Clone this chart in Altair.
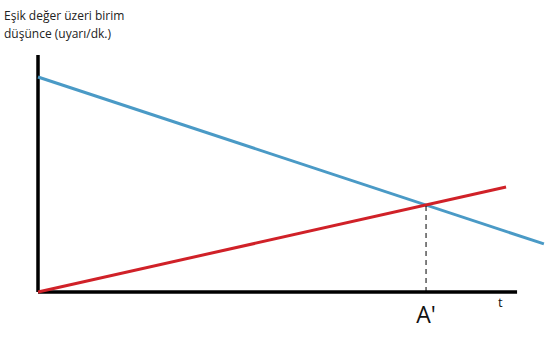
import altair as alt
import pandas as pd

# Conceptual data units (t on x, rate on y)
axis_x = [0.0, 10.0]          # x-axis extent
axis_y = [0.0, 10.0]          # y-axis extent
blue_t = [0.0, 10.56]
blue_v = [9.07, 2.03]
red_t = [0.0, 9.77]
red_v = [0.0, 4.43]
a_prime_t = 8.1
a_prime_v = 3.67
title_lines = ["Eşik değer üzeri birim", "düşünce (uyarı/dk.)"]
x_label = "t"
a_label = "A'"

xs = alt.Scale(domain=[0, 10.75], nice=False, zero=False)
ys = alt.Scale(domain=[0, 12.32], nice=False, zero=False)

blue_df = pd.DataFrame({"t": blue_t, "v": blue_v})
red_df = pd.DataFrame({"t": red_t, "v": red_v})
xaxis_df = pd.DataFrame({"t": [axis_x[0]], "t2": [axis_x[1]], "v": [0.0]})
yaxis_df = pd.DataFrame({"t": [0.0], "v": [axis_y[0]], "v2": [axis_y[1]]})
dash_df = pd.DataFrame({"t": [a_prime_t], "v": [0.0], "v2": [a_prime_v]})
alab_df = pd.DataFrame({"t": [a_prime_t], "v": [0.0], "label": [a_label]})
tlab_df = pd.DataFrame({"t": [9.65], "v": [0.0], "label": [x_label]})
title_df = pd.DataFrame({"label": ["\n".join(title_lines)]})

X = lambda f="t": alt.X(f"{f}:Q", scale=xs, axis=None)
Y = lambda f="v": alt.Y(f"{f}:Q", scale=ys, axis=None)

blue = alt.Chart(blue_df).mark_line(color="#4a9ac6", strokeWidth=3).encode(x=X(), y=Y())
red = alt.Chart(red_df).mark_line(color="#d02128", strokeWidth=3).encode(x=X(), y=Y())
xaxis = alt.Chart(xaxis_df).mark_rule(color="black", strokeWidth=3.5).encode(
    x=X(), x2="t2:Q", y=Y())
yaxis = alt.Chart(yaxis_df).mark_rule(color="black", strokeWidth=3.5).encode(
    x=X(), y=Y(), y2="v2:Q")
dash = alt.Chart(dash_df).mark_rule(color="black", strokeWidth=1, strokeDash=[5, 4]).encode(
    x=X(), y=Y(), y2="v2:Q")
alab = alt.Chart(alab_df).mark_text(font="Open Sans", fontSize=23, dy=31,
                                    baseline="alphabetic", align="center", color="#111").encode(
    x=X(), y=Y(), text="label:N")
tlab = alt.Chart(tlab_df).mark_text(font="Open Sans", fontSize=13, dy=15,
                                    baseline="alphabetic", align="center", color="#111").encode(
    x=X(), y=Y(), text="label:N")
title = alt.Chart(title_df).mark_text(font="Open Sans", fontSize=12, lineBreak="\n",
                                      lineHeight=17.5, baseline="alphabetic", align="left",
                                      color="#222").encode(
    x=alt.value(-34), y=alt.value(20), text="label:N")

chart = alt.layer(yaxis, xaxis, blue, red, dash, alab, tlab, title).properties(
    width=515, height=292,
    autosize=alt.AutoSizeParams(type="none"),
    padding={"left": 38, "top": 0, "right": 0, "bottom": 64},
).configure(background="white").configure_view(stroke=None, strokeWidth=0)

chart.save("out.html", embed_options={"renderer": "svg", "actions": False})
